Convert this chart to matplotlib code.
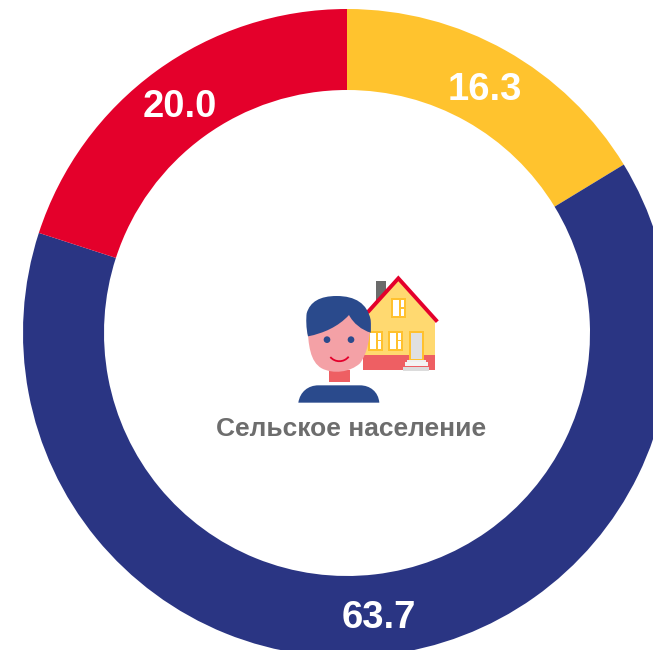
# -*- coding: utf-8 -*-
import matplotlib
matplotlib.use("Agg")
import matplotlib.pyplot as plt
from matplotlib.path import Path
from matplotlib.patches import PathPatch, Polygon, Rectangle, Circle

values = [16.3, 63.7, 20.0]
labels = ["16.3", "63.7", "20.0"]
colors = ["#FFC32E", "#2A3583", "#E4002B"]
title = "Сельское население"

plt.rcParams['font.family'] = ['Liberation Sans', 'DejaVu Sans']

fig = plt.figure(figsize=(6.53, 6.50), dpi=100)
ax = fig.add_axes([0, 0, 1, 1])
ax.set_xlim(0, 653)
ax.set_ylim(650, 0)
ax.axis("off")

# y axis is flipped, so the pie goes the other way round
ax.pie(values, colors=colors, center=(347, 333), radius=324, startangle=-90,
       counterclock=True, wedgeprops=dict(width=81, linewidth=0),
       frame=False)
ax.set_xlim(0, 653)
ax.set_ylim(650, 0)
ax.set_aspect("auto")

label_pos = [(485, 90), (379, 618), (180, 107)]
for lab, (x, y) in zip(labels, label_pos):
    ax.text(x, y, lab, color="white", fontsize=27.5, fontweight="bold",
            ha="center", va="center")
ax.text(351, 429, title, color="#6D6D6D", fontsize=19, fontweight="bold",
        ha="center", va="center")

# icon, coordinates are 3x pixels from the crop at (280, 265)
ic = fig.add_axes([280 / 653, 1 - 415 / 650, 175 / 653, 150 / 650])
ic.set_xlim(0, 525)
ic.set_ylim(450, 0)
ic.axis("off")

yellow = "#FFD970"
frame = "#FFC12E"
red = "#EE5F63"
blue = "#2A4A8C"
pink = "#F4A1A6"


def rect(x0, y0, x1, y1, c, z=2):
    ic.add_patch(Rectangle((x0, y0), x1 - x0, y1 - y0, fc=c, ec="none", zorder=z))


def window(x0, y0, x1, y1):
    rect(x0, y0, x1, y1, frame, 3)
    rect(x0 + 6, y0 + 6, x1 - 6, y1 - 6, "white", 4)
    mid = x0 + (x1 - x0) * 0.58
    rect(mid - 2, y0 + 6, mid + 3, y1 - 6, frame, 5)
    rect(mid, y0 + 26, x1 - 6, y0 + 31, frame, 5)


def curve(verts, c, z):
    codes = [Path.MOVETO] + [Path.CURVE4] * (len(verts) - 2) + [Path.CLOSEPOLY]
    ic.add_patch(PathPatch(Path(verts, codes), fc=c, ec="none", zorder=z))


# house
rect(288, 48, 318, 115, "#6B6B6B", 1)
ic.add_patch(Polygon([(250, 160), (355, 45), (465, 170), (465, 275), (250, 275)],
                     fc=yellow, ec="none", zorder=1.5))
rect(250, 270, 465, 315, red, 2)
ic.plot([262, 355, 472], [143, 40, 170], color="#E4002B", lw=2.8,
        solid_joinstyle="miter", solid_capstyle="butt", zorder=6)
window(333, 100, 378, 158)
window(265, 198, 308, 257)
window(324, 198, 369, 257)
rect(387, 198, 431, 286, frame, 3)
rect(393, 204, 426, 282, "#E0E0E0", 4)
rect(381, 285, 437, 293, "#F0F0F0", 4)
rect(375, 292, 445, 303, "#F4F4F4", 4)
rect(369, 305, 447, 318, "#DCDCDC", 4)

# person
curve([(55, 413), (60, 380), (85, 361), (115, 361),
       (155, 361), (200, 361), (240, 361),
       (270, 361), (295, 380), (298, 413),
       (55, 413)], blue, 7)
rect(147, 315, 210, 351, red, 7)
curve([(82, 180), (85, 240), (90, 290), (125, 310),
       (160, 328), (210, 322), (240, 295),
       (262, 265), (270, 220), (272, 170),
       (250, 100), (100, 100), (82, 180),
       (82, 180)], pink, 8)
curve([(84, 214), (78, 190), (78, 160), (80, 145),
       (90, 110), (120, 93), (170, 93),
       (225, 93), (262, 115), (272, 165),
       (273, 180), (273, 192), (272, 203),
       (245, 195), (220, 175), (207, 150),
       (175, 185), (130, 205), (84, 214),
       (84, 214)], blue, 9)
ic.add_patch(Circle((141, 224), 10, fc=blue, ec="none", zorder=10))
ic.add_patch(Circle((213, 224), 10, fc=blue, ec="none", zorder=10))
smile = Path([(151, 276), (165, 293), (192, 293), (206, 275)],
             [Path.MOVETO, Path.CURVE4, Path.CURVE4, Path.CURVE4])
ic.add_patch(PathPatch(smile, fc="none", ec="#E4002B", lw=1.3, zorder=10))

fig.savefig("out.png", dpi=100)
